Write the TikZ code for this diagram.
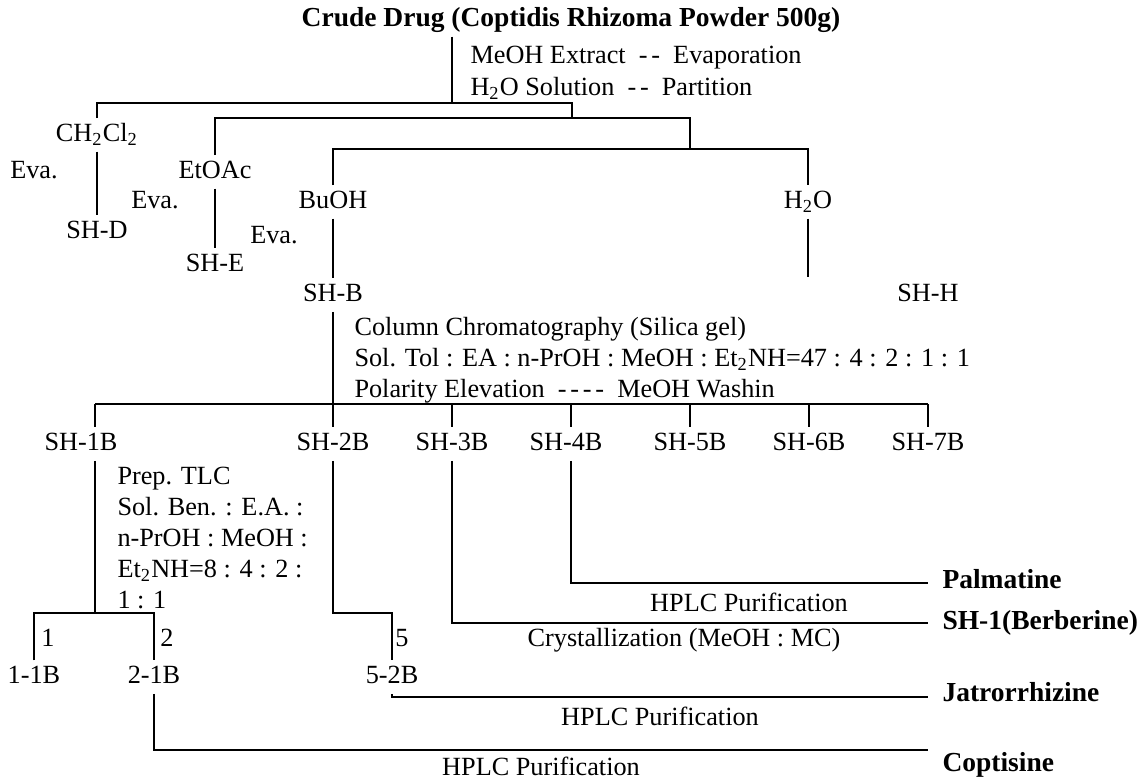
\documentclass[tikz,border=0pt]{standalone}
\usepackage{fontspec}
\setmainfont{Liberation Serif}

\begin{document}
\begin{tikzpicture}[
        x=0.4pt, y=-0.4pt,
        font=\fontsize{10.5}{12.4}\selectfont,
        lbl/.style={inner sep=2pt, text height=7pt, text depth=2pt},
        note/.style={anchor=west, inner sep=0pt, align=left},
        prod/.style={anchor=west, inner sep=0pt, text height=7pt, text depth=2pt, font=\fontsize{11}{13}\selectfont\bfseries},
        link/.style={draw=black, line width=0.7pt}
    ]
        \useasboundingbox (0,0) rectangle (1143,778);

        \node[lbl, font=\fontsize{11}{13}\selectfont\bfseries] (crude) at (571,20) {Crude Drug (Coptidis Rhizoma Powder 500g)};
        \node[note, font=\fontsize{10.5}{12.8}\selectfont] (extract) at (470,73) {MeOH Extract\enspace-\kern1.5pt-\enspace Evaporation\\H\textsubscript{2}O Solution\enspace-\kern1.5pt-\enspace Partition};

        \node[lbl] (ch2cl2) at (97,135) {CH\textsubscript{2}Cl\textsubscript{2}};
        \node[lbl] (shd) at (97,232) {SH-D};
        \node[lbl] (evad) at (34,172) {Eva.};
        \node[lbl] (etoac) at (215,172) {EtOAc};
        \node[lbl] (she) at (215,265) {SH-E};
        \node[lbl] (evae) at (155,202) {Eva.};
        \node[lbl] (buoh) at (333,202) {BuOH};
        \node[lbl] (shb) at (333,295) {SH-B};
        \node[lbl] (evab) at (274,237) {Eva.};
        \node[lbl] (h2o) at (808,202) {H\textsubscript{2}O};
        \node[lbl] (shh) at (928,295) {SH-H};

        \node[note] (column) at (354,360) {Column Chromatography (Silica gel)\\Sol. Tol : EA : n-PrOH : MeOH : Et\textsubscript{2}NH=47 : 4 : 2 : 1 : 1\\Polarity Elevation\enspace-\kern1.5pt-\kern1.5pt-\kern1.5pt-\enspace MeOH Washin};

        \node[lbl] (sh1b) at (81,444) {SH-1B};
        \node[lbl] (sh2b) at (333,444) {SH-2B};
        \node[lbl] (sh3b) at (452,444) {SH-3B};
        \node[lbl] (sh4b) at (566,444) {SH-4B};
        \node[lbl] (sh5b) at (690,444) {SH-5B};
        \node[lbl] (sh6b) at (809,444) {SH-6B};
        \node[lbl] (sh7b) at (928,444) {SH-7B};

        \node[note] (prep) at (117,538) {Prep. TLC\\Sol. Ben. : E.A. :\\n-PrOH : MeOH :\\Et\textsubscript{2}NH=8 : 4 : 2 :\\1 : 1};

        \node[lbl] (f1) at (48,640) {1};
        \node[lbl] (f2) at (167,640) {2};
        \node[lbl] (f5) at (402,640) {5};
        \node[lbl] (n11) at (34,677) {1-1B};
        \node[lbl] (n21) at (154,677) {2-1B};
        \node[lbl] (n52) at (392,677) {5-2B};

        \node[lbl] (hplcp) at (749,605) {HPLC Purification};
        \node[lbl] (cryst) at (684,640) {Crystallization (MeOH : MC)};
        \node[lbl] (hplcj) at (660,719) {HPLC Purification};
        \node[lbl] (hplcc) at (541,769) {HPLC Purification};

        \node[prod] (palm) at (942,582) {Palmatine};
        \node[prod] (berb) at (942,623) {SH-1(Berberine)};
        \node[prod] (jatr) at (942,695) {Jatrorrhizine};
        \node[prod] (copt) at (942,765) {Coptisine};

        \coordinate (top) at (452,103);
        \coordinate (p1) at (572,103);
        \coordinate (p2) at (690,118);
        \coordinate (p3) at (808,149);
        \coordinate (h2oend) at (808,277);
        \coordinate (k1) at (95,404);
        \coordinate (k3) at (452,404);
        \coordinate (k4) at (571,404);
        \coordinate (k5) at (690,404);
        \coordinate (k6) at (809,404);
        \coordinate (k7) at (928,404);
        \coordinate (t1) at (95,613);
        \coordinate (u2) at (333,613);
        \coordinate (e4) at (928,583);
        \coordinate (e3) at (928,623);
        \coordinate (e5) at (928,697);
        \coordinate (e2) at (928,750);

        \draw[link] (crude.south -| top) -- (top);
        \draw[link] (ch2cl2.north) |- (p1) -- (p1 |- p2);
        \draw[link] (etoac.north) |- (p2) -- (p2 |- p3);
        \draw[link] (buoh.north) |- (p3) -- (h2o.north);
        \draw[link] (ch2cl2) -- (shd);
        \draw[link] (etoac) -- (she);
        \draw[link] (buoh) -- (shb);
        \draw[link] (h2o) -- (h2oend);

        \draw[link] (shb) -- (sh2b);
        \draw[link] (k1) -- (k7);
        \draw[link] (k1) -- (k1 |- sh1b.north);
        \foreach \k/\n in {k3/sh3b, k4/sh4b, k5/sh5b, k6/sh6b, k7/sh7b}
            \draw[link] (\k) -- (\k |- \n.north);

        \draw[link] (sh1b.south -| t1) -- (t1);
        \draw[link] (n11.north) |- (t1) -| (n21.north);
        \draw[link] (sh2b.south) -- (u2) -| (n52.north);
        \draw[link] (sh3b.south) |- (e3);
        \draw[link] (sh4b.south -| k4) |- (e4);
        \draw[link] (n52.south) |- (e5);
        \draw[link] (n21.south) |- (e2);
    \end{tikzpicture}
\end{document}
